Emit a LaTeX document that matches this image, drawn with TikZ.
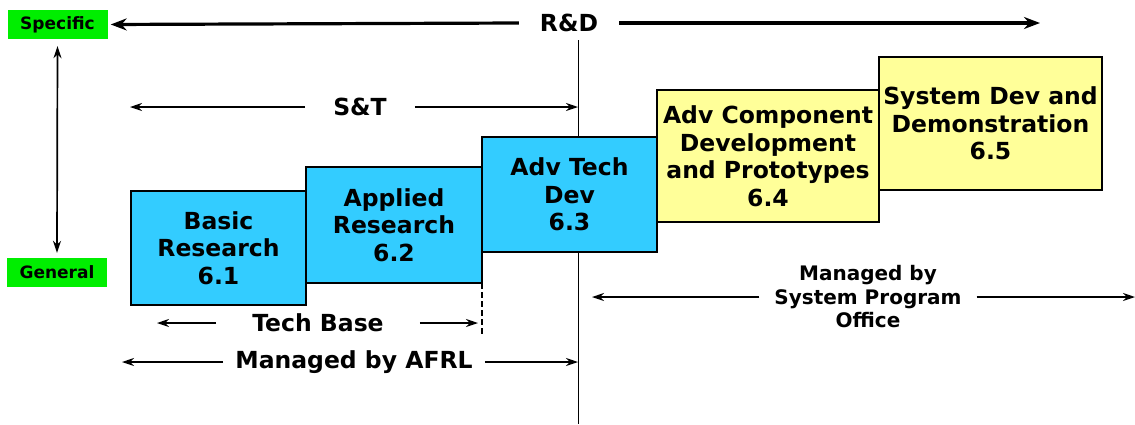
\documentclass[tikz,border=0pt]{standalone}
\usepackage{fontspec}
\setmainfont{DejaVu Sans}
\usetikzlibrary{arrows.meta,positioning}
\definecolor{stageblue}{RGB}{51,204,255}
\definecolor{stageyellow}{RGB}{255,255,153}
\definecolor{endgreen}{RGB}{0,238,0}
\tikzstyle{stage}=[
  draw=black,
  line width=1.2pt,
  inner sep=0pt,
  outer sep=0pt,
  rectangle,
  anchor=north west,
  align=center,
  font={\bfseries\fontsize{23.5}{27.5}\selectfont},
]
\tikzstyle{stbox}=[stage, fill=stageblue]
\tikzstyle{spobox}=[stage, fill=stageyellow]
\tikzstyle{endlabel}=[
  fill=endgreen,
  inner sep=0pt,
  minimum width=100pt,
  minimum height=29pt,
  font={\bfseries\fontsize{17}{20}\selectfont},
]
\tikzstyle{span}=[
  inner ysep=0pt,
  align=center,
  font={\bfseries\fontsize{23.5}{27}\selectfont},
]
\tikzstyle{spanarrow}=[
  ->,
  line width=1.5pt,
]
\tikzset{
  >={Stealth[length=12pt,width=8pt]},
}
\begin{document}
\begin{tikzpicture}[x=1pt, y=-1pt]
  \useasboundingbox (0,0) rectangle (1135,424);
  %% scale on the left
  \node (specific) [endlabel] at (57.5,24.5) {Specific};
  \node (general) [endlabel] at (57,272.5) {General};
  \draw [<->, line width=1.7pt] ([yshift=-7pt]specific.south) -- ([yshift=5pt]general.north);
  %%
  \coordinate (divtop) at (578,40);
  \coordinate (divbot) at (578,424);
  \draw [line width=0.9pt] (divtop) -- (divbot);
  %% stages
  \node (basic) [stbox, minimum width=175pt, minimum height=114pt] at (131,191) {Basic\\Research\\6.1};
  \node (applied) [stbox, minimum width=176pt, minimum height=116pt] at (306,167) {Applied\\Research\\6.2};
  \node (advtech) [stbox, minimum width=175pt, minimum height=115pt] at (482,137) {Adv Tech\\Dev\\6.3};
  \node (advcomp) [spobox, minimum width=222pt, minimum height=132pt] at (657,90) {Adv Component\\Development\\and Prototypes\\6.4};
  \node (sysdev) [spobox, minimum width=223pt, minimum height=133pt] at (879,57) {System Dev and\\Demonstration\\6.5};
  %% R&D
  \node (rd) [span, inner xsep=21pt] at (569,23) {R\&D};
  \coordinate (rdend) at (1040,23);
  \draw [-{Stealth[length=16pt,width=12pt]}, line width=3.2pt, shorten >=3pt] (rd.west) -- (specific.east);
  \draw [-{Stealth[length=16pt,width=12pt]}, line width=3.2pt] (rd.east) -- (rdend);
  %% S&T
  \node (st) [span, inner xsep=28pt] at (360,107) {S\&T};
  \coordinate (stend) at (130,107);
  \draw [spanarrow] (st.west) -- (stend);
  \draw [spanarrow] (st.east) -- (st -| divtop);
  %% Tech Base
  \node (techbase) [span, inner xsep=36pt] at (318,323) {Tech Base};
  \coordinate (tbend) at (157,323);
  \coordinate (tbdash) at (applied.south east |- techbase);
  \draw [spanarrow] (techbase.west) -- (tbend);
  \draw [spanarrow, shorten >=4pt] (techbase.east) -- (tbdash);
  \draw [dash pattern=on 6pt off 3pt, line width=1.3pt] (applied.south east) -- ++(0,52);
  %% AFRL
  \node (afrl) [span, inner xsep=12pt] at (354,362) {Managed by AFRL};
  \coordinate (afrlend) at (122,362);
  \draw [spanarrow] (afrl.west) -- (afrlend);
  \draw [spanarrow] (afrl.east) -- (afrl -| divtop);
  %% System Program Office
  \node (spo) [span, inner xsep=15pt, font={\bfseries\fontsize{20}{23.5}\selectfont}] at (868,297) {Managed by\\System Program\\Office};
  \coordinate (spoleft) at (592,297);
  \coordinate (sporight) at (1135,297);
  \draw [spanarrow] (spo.west) -- (spoleft);
  \draw [spanarrow] (spo.east) -- (sporight);
\end{tikzpicture}
\end{document}
